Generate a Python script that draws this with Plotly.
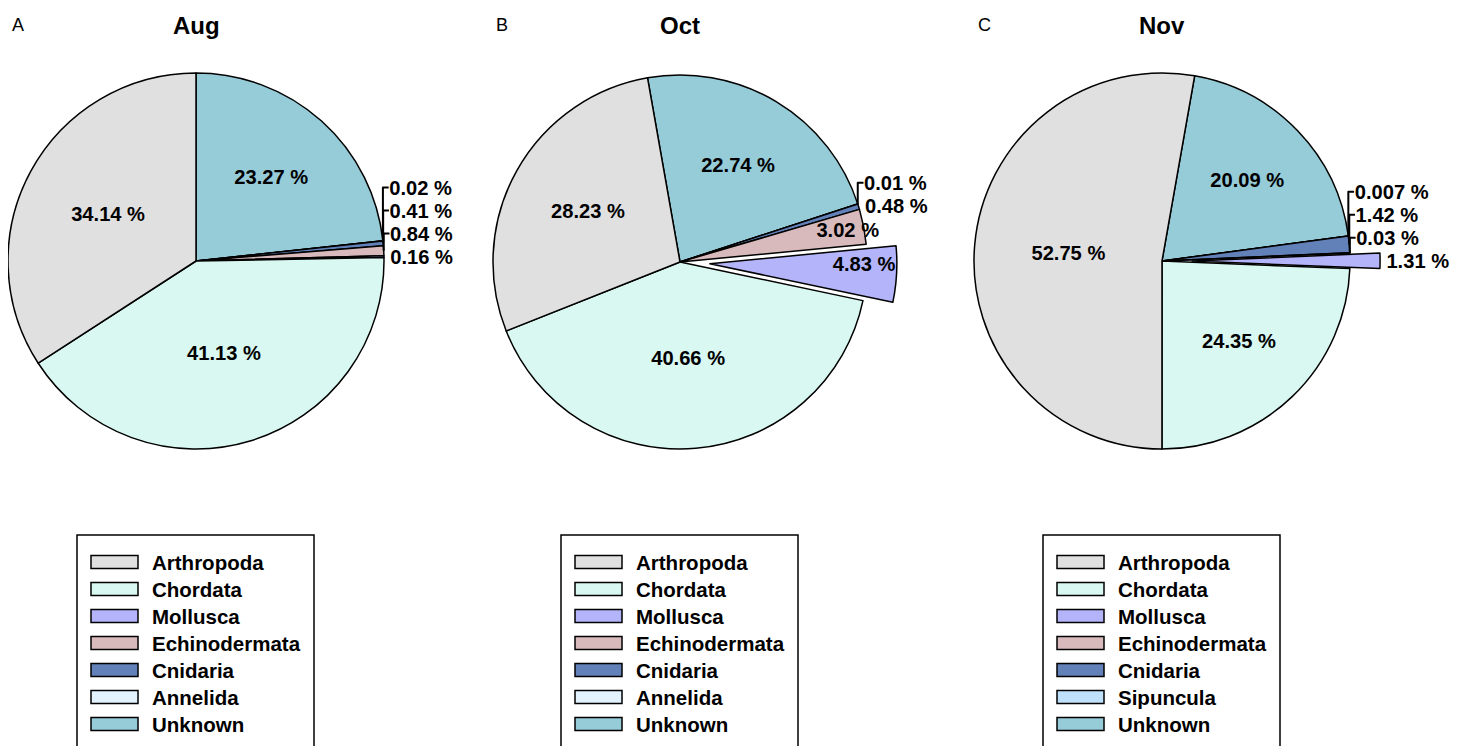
import plotly.graph_objects as go

W, H = 1460, 746
OX, OY = 8, 8  # page body margin offset of the rendered figure

# ---- data (clockwise order from the start angle) ----
aug_labels = ["Unknown", "Annelida", "Cnidaria", "Echinodermata", "Mollusca", "Chordata", "Arthropoda"]
aug_values = [23.27, 0.02, 0.41, 0.84, 0.16, 41.13, 34.14]

oct_labels = ["Unknown", "Annelida", "Cnidaria", "Echinodermata", "Mollusca", "Chordata", "Arthropoda"]
oct_values = [22.74, 0.01, 0.48, 3.02, 4.83, 40.66, 28.23]

nov_labels = ["Unknown", "Sipuncula", "Cnidaria", "Echinodermata", "Mollusca", "Chordata", "Arthropoda"]
nov_values = [20.09, 0.007, 1.42, 0.03, 1.31, 24.35, 52.75]

legend_aug = ["Arthropoda", "Chordata", "Mollusca", "Echinodermata", "Cnidaria", "Annelida", "Unknown"]
legend_oct = ["Arthropoda", "Chordata", "Mollusca", "Echinodermata", "Cnidaria", "Annelida", "Unknown"]
legend_nov = ["Arthropoda", "Chordata", "Mollusca", "Echinodermata", "Cnidaria", "Sipuncula", "Unknown"]

titles = ["Aug", "Oct", "Nov"]
panels = ["A", "B", "C"]

colors = {
    "Arthropoda": "#E0E0E0",
    "Chordata": "#D8F8F1",
    "Mollusca": "#B4B4FB",
    "Echinodermata": "#D8BABC",
    "Cnidaria": "#6281B9",
    "Annelida": "#E2F2FE",
    "Sipuncula": "#BFE1FB",
    "Unknown": "#96CBD8",
}

FONT = "Liberation Sans, Arial, sans-serif"


def px(X):
    return (X - OX) / W


def py(Y):
    return 1 - (Y - OY) / H


# ---- layout geometry (pixels in the final picture) ----
pies = [
    dict(labels=aug_labels, values=aug_values, legend=legend_aug, cx=196, cy=261, r=188, rot=0,
         pull_slice=None, pull=0.0,
         pos=["inside", "outside", "outside", "outside", "outside", "inside", "inside"]),
    dict(labels=oct_labels, values=oct_values, legend=legend_oct, cx=680, cy=262, r=187, rot=-10,
         pull_slice="Mollusca", pull=0.16,
         pos=["inside", "outside", "outside", "inside", "inside", "inside", "inside"]),
    dict(labels=nov_labels, values=nov_values, legend=legend_nov, cx=1162, cy=261, r=188, rot=10,
         pull_slice="Mollusca", pull=0.16,
         pos=["inside", "outside", "outside", "outside", "outside", "inside", "inside"]),
]

fig = go.Figure()
shapes = []
annotations = []

for i, p in enumerate(pies):
    R = p["r"] * (1 + p["pull"])
    pulls = [p["pull"] if lab == p["pull_slice"] else 0 for lab in p["labels"]]
    texts = [f"{v:g} %" for v in p["values"]]
    tf = dict(family=FONT, size=20.5, color="black", weight="bold")
    fig.add_trace(go.Pie(
        labels=p["labels"], values=p["values"], text=texts,
        textinfo="text", sort=False, direction="clockwise", rotation=p["rot"],
        pull=pulls, textposition=p["pos"],
        insidetextorientation="horizontal",
        marker=dict(colors=[colors[l] for l in p["labels"]], line=dict(color="black", width=1.5)),
        textfont=tf, outsidetextfont=tf, insidetextfont=tf,
        domain=dict(x=[px(p["cx"] - R), px(p["cx"] + R)],
                    y=[py(p["cy"] + R), py(p["cy"] - R)]),
        showlegend=False, hoverinfo="label+percent",
    ))

    # title and panel letter
    annotations.append(dict(text=f"<b>{titles[i]}</b>", x=px(p["cx"]), y=py(25),
                            xref="paper", yref="paper", showarrow=False,
                            font=dict(family=FONT, size=24, color="black"),
                            xanchor="center", yanchor="middle"))
    annotations.append(dict(text=panels[i], x=px(p["cx"] - 178), y=py(25),
                            xref="paper", yref="paper", showarrow=False,
                            font=dict(family=FONT, size=18, color="black"),
                            xanchor="center", yanchor="middle"))

    # legend box
    bl = p["cx"] - 119
    shapes.append(dict(type="rect", xref="paper", yref="paper",
                       x0=px(bl), x1=px(bl + 237), y0=py(780), y1=py(535),
                       line=dict(color="black", width=1.5), fillcolor="rgba(0,0,0,0)"))
    for k, lab in enumerate(p["legend"]):
        yc = 562 + 27 * k
        shapes.append(dict(type="rect", xref="paper", yref="paper",
                           x0=px(bl + 14), x1=px(bl + 61),
                           y0=py(yc + 6.5), y1=py(yc - 6.5),
                           line=dict(color="black", width=1.5), fillcolor=colors[lab]))
        annotations.append(dict(text=f"<b>{lab}</b>", x=px(bl + 73), y=py(yc),
                                xref="paper", yref="paper", showarrow=False,
                                font=dict(family=FONT, size=20.5, color="black"),
                                xanchor="left", yanchor="middle"))

fig.update_layout(
    width=W, height=H, autosize=False,
    margin=dict(l=0, r=0, t=0, b=0, pad=0, autoexpand=False),
    paper_bgcolor="white", plot_bgcolor="white",
    shapes=shapes, annotations=annotations,
    uniformtext=dict(minsize=20, mode="show"),
    showlegend=False,
)

fig.write_html("out.html")
